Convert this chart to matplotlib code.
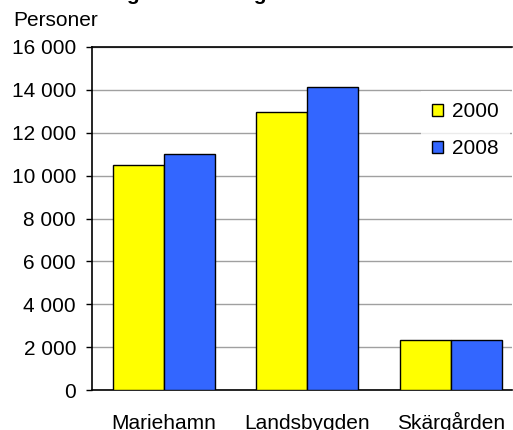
import matplotlib.pyplot as plt
import numpy as np

plt.rcParams['font.family'] = ['Liberation Sans', 'DejaVu Sans']

# data
regions = ['Mariehamn', 'Landsbygden', 'Skärgården']
years = ['2000', '2008']
pop_2000 = [10500, 12950, 2330]
pop_2008 = [11000, 14150, 2320]

fig = plt.figure(figsize=(5.13, 4.3), dpi=100)
ax = fig.add_axes([92 / 513, 40 / 430, 420 / 513, 343 / 430])

x = np.arange(len(regions))
w = 0.355
ax.bar(x - w / 2, pop_2000, w, color='#FFFF00', edgecolor='black', linewidth=1, label=years[0], zorder=3)
ax.bar(x + w / 2, pop_2008, w, color='#3366FF', edgecolor='black', linewidth=1, label=years[1], zorder=3)

ax.set_xlim(-0.5, 2.425)
ax.set_ylim(0, 16000)
yt = np.arange(0, 16001, 2000)
ax.set_yticks(yt)
ax.set_yticklabels(['{:,}'.format(v).replace(',', ' ') for v in yt], fontsize=15)
ax.set_xticks(x)
ax.set_xticklabels(regions, fontsize=15)
# baseline-aligned so the ring in "Skärgården" doesn't push it down
for lbl in ax.get_xticklabels():
    lbl.set_va('baseline')
ax.tick_params(axis='x', length=0, pad=28)
ax.tick_params(axis='y', length=4.5, width=1, direction='out', pad=7)
ax.grid(axis='y', color='#a0a0a0', linewidth=1, zorder=0)
for s in ax.spines.values():
    s.set_color('black')
    s.set_linewidth(1.2)
ax.spines['right'].set_visible(False)

# legend sits on a white box that hides the grid
leg = ax.legend(loc='upper right', bbox_to_anchor=(0.996, 0.872), frameon=True, fontsize=15,
                handlelength=0.53, handleheight=0.53, handletextpad=0.43, labelspacing=0.85,
                borderpad=0.55, borderaxespad=0, fancybox=False)
leg.get_frame().set_edgecolor('white')
leg.get_frame().set_linewidth(0)
leg.set_zorder(5)

fig.text(13 / 513, 1 - 21 / 430, 'Personer', fontsize=15, va='center', ha='left')
# title is cut off at the top edge of the image
fig.text(243 / 513, 1.0, 'Folkmängden efter region 2000 och 2008', fontsize=15,
         fontweight='bold', ha='center', va='baseline')

fig.savefig('out.png', dpi=100)
